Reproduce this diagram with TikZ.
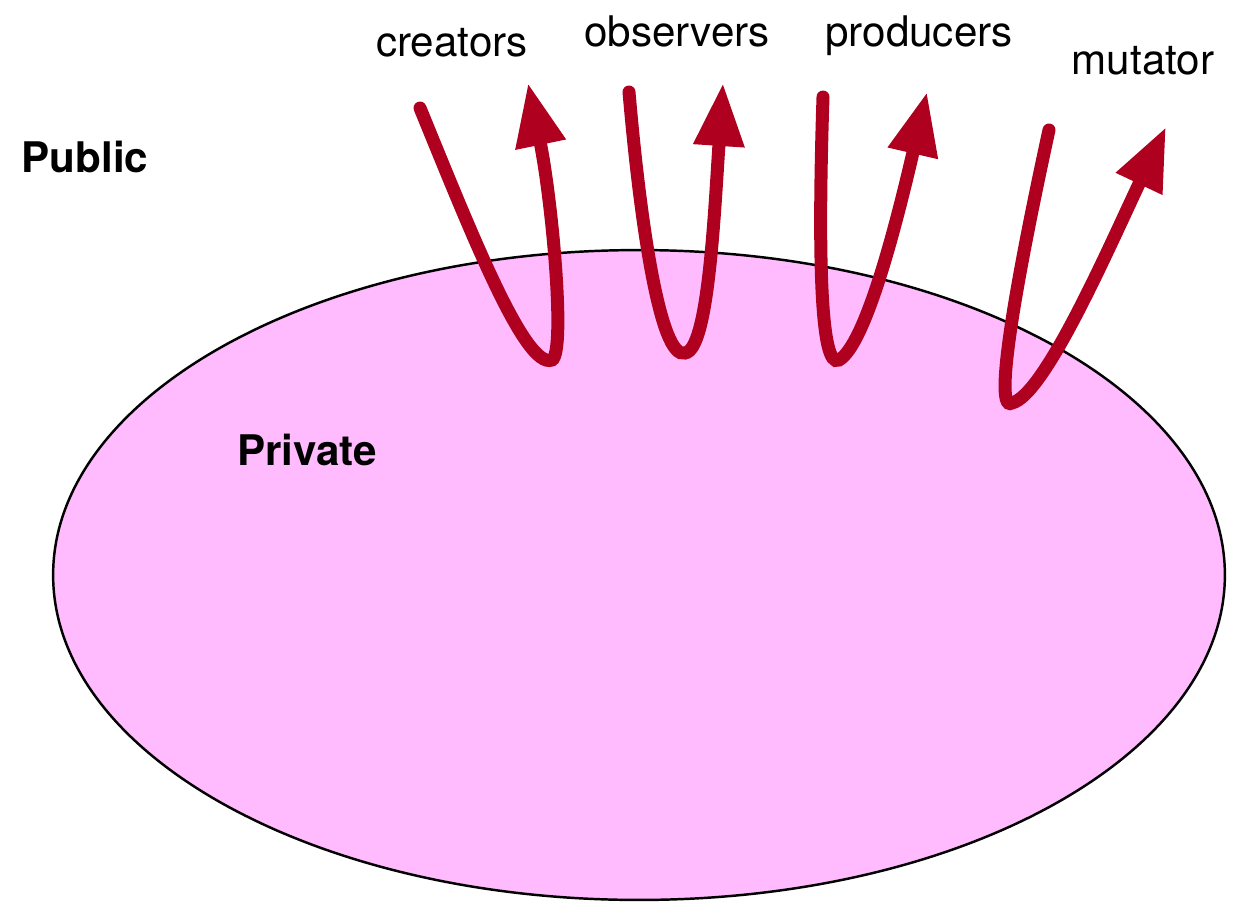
\documentclass[tikz,border=0pt]{standalone}
\usepackage{fontspec}
\setmainfont{TeX Gyre Heros}
\usepackage{tikz}
\usetikzlibrary{shapes.geometric, arrows.meta}
\definecolor{privpink}{RGB}{255,187,253}
\definecolor{flowred}{RGB}{176,0,32}

\begin{document}
\begin{tikzpicture}[
        x=0.02cm, y=-0.02cm,
        every node/.style={font=\fontsize{24}{28}\selectfont},
        region/.style={draw, ellipse, line width=1.4pt, fill=privpink,
                       minimum width=23.44cm, minimum height=13cm, inner sep=0pt},
        lbl/.style={inner sep=0pt, anchor=base},
        side/.style={inner sep=0pt, font=\fontsize{24}{28}\selectfont\bfseries},
        flow/.style={draw=flowred, line width=0.26cm, line cap=round,
                     -{Triangle[length=1.26cm, width=0.96cm]}}]

      \useasboundingbox (0,0) rectangle (1244,903);

      \node[region] (priv) at (639,575) {};
      \node[side] (public) at (85,157) {Public};
      \node[side] (private) at (307,450) {Private};

      \node[lbl] (creators)  at (452,56) {creators};
      \node[lbl] (observers) at (677,46) {observers};
      \node[lbl] (producers) at (919,46) {producers};
      \node[lbl] (mutator)   at (1143,74) {mutator};

      % free ends of the four operation arrows
      \coordinate (cin)  at (420,108);   \coordinate (cout) at (528,83);
      \coordinate (oin)  at (629,92);    \coordinate (oout) at (723,83);
      \coordinate (pin)  at (823,97);    \coordinate (pout) at (927,92);
      \coordinate (min)  at (1049,130);  \coordinate (mout) at (1166,127);

      \draw[flow] (cin) .. controls (470,230) and (525,370) .. (552,360)
                        .. controls (566,352) and (552,200) .. (cout);
      \draw[flow] (oin) .. controls (640,220) and (660,360) .. (685,353)
                        .. controls (708,350) and (714,220) .. (oout);
      \draw[flow] (pin) .. controls (818,250) and (820,370) .. (839,360)
                        .. controls (865,345) and (895,230) .. (pout);
      \draw[flow] (min) .. controls (1025,240) and (990,415) .. (1012,403)
                        .. controls (1045,395) and (1110,245) .. (mout);
    \end{tikzpicture}
\end{document}
